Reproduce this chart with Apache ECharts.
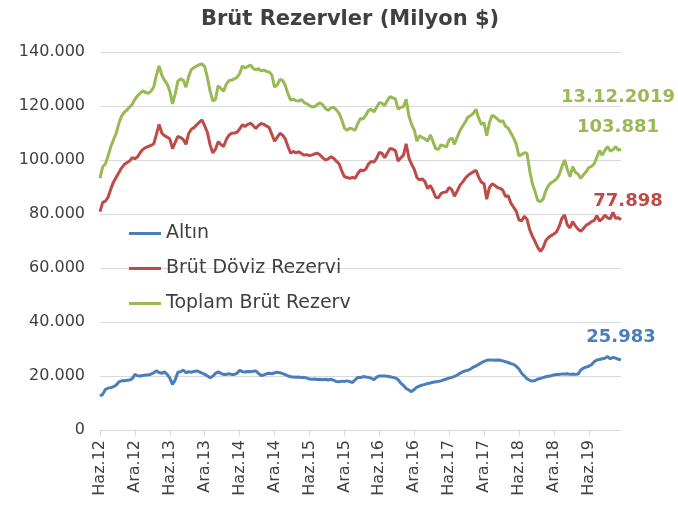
<!DOCTYPE html>
<html>
<head>
<meta charset="utf-8">
<script src="https://cdn.jsdelivr.net/npm/echarts@6/dist/echarts.min.js"></script>
<style>
  html, body { margin: 0; padding: 0; background: #fff; }
  #chart { width: 678px; height: 507px; }
</style>
</head>
<body>
<div id="chart"></div>
<script>
// eksen etiketleri (her 13 noktada bir, ~6 ay)
var tickLabels = ['Haz.12', 'Ara.12', 'Haz.13', 'Ara.13', 'Haz.14', 'Ara.14', 'Haz.15', 'Ara.15',
    'Haz.16', 'Ara.16', 'Haz.17', 'Ara.17', 'Haz.18', 'Ara.18', 'Haz.19'];
var lastDate = '13.12.2019';

// Altın (etiket 20.000 = 20 milyar $)
var altin = [
    12.6, 13.2, 15.0, 15.5, 15.7, 16.0, 16.6, 17.8, 18.2, 18.2, 18.4, 18.5, 19.0,
    20.6, 20.1, 20.0, 20.2, 20.4, 20.4, 20.7, 21.2, 21.9, 21.3, 21.0, 21.5, 20.6,
    19.2, 16.9, 18.5, 21.4, 21.6, 22.2, 21.2, 21.6, 21.4, 21.7, 21.9, 21.5, 21.1,
    20.6, 20.0, 19.4, 19.9, 21.0, 21.5, 21.0, 20.6, 20.6, 20.8, 20.6, 20.6, 21.0,
    22.1, 21.6, 21.5, 21.7, 21.6, 21.8, 21.9, 21.0, 20.2, 20.4, 20.8, 21.0, 20.8,
    21.2, 21.4, 21.2, 20.9, 20.5, 20.0, 19.7, 19.6, 19.5, 19.6, 19.4, 19.5, 19.2,
    18.9, 18.8, 18.9, 18.7, 18.8, 18.6, 18.8, 18.5, 18.8, 18.4, 18.0, 17.9, 18.1,
    18.0, 18.2, 17.9, 17.6, 18.6, 19.5, 19.4, 19.8, 19.6, 19.5, 19.2, 18.6, 19.6,
    20.0, 20.0, 20.0, 19.9, 19.7, 19.5, 19.3, 18.6, 17.4, 16.5, 15.4, 14.8, 14.2,
    15.0, 15.9, 16.3, 16.6, 16.9, 17.2, 17.4, 17.7, 17.9, 18.0, 18.2, 18.6, 18.9,
    19.2, 19.5, 19.9, 20.3, 21.0, 21.5, 21.9, 22.1, 22.6, 23.3, 23.7, 24.3, 24.9,
    25.4, 25.8, 25.9, 25.9, 25.8, 25.9, 25.8, 25.6, 25.3, 25.0, 24.6, 24.3, 23.6,
    22.6, 21.0, 20.0, 19.0, 18.4, 18.1, 18.3, 18.9, 19.1, 19.4, 19.7, 19.9, 20.1,
    20.4, 20.6, 20.6, 20.7, 20.7, 20.8, 20.6, 20.7, 20.6, 20.7, 22.2, 22.9, 23.3,
    23.6, 24.2, 25.3, 25.9, 26.1, 26.4, 26.6, 27.2, 26.4, 26.9, 26.6, 26.2, 25.983
];

// Brüt Döviz Rezervi
var doviz = [
    80.9, 84.3, 84.8, 86.2, 89.2, 91.8, 93.5, 95.3, 97.0, 98.3, 99.0, 99.6, 100.9,
    100.5, 101.2, 102.8, 104.0, 104.6, 105.0, 105.4, 106.0, 109.5, 113.2, 110.0, 109.0, 108.5,
    107.8, 104.2, 106.5, 108.8, 108.3, 107.6, 105.8, 109.8, 111.4, 112.0, 113.0, 114.0, 114.8,
    112.6, 110.2, 105.6, 102.6, 104.0, 106.8, 105.8, 105.0, 107.5, 109.2, 109.9, 110.0, 110.3,
    111.5, 113.0, 112.4, 113.2, 113.6, 112.8, 111.7, 112.8, 113.5, 113.2, 112.6, 112.0, 109.5,
    107.0, 108.4, 109.9, 109.2, 107.8, 105.0, 102.5, 103.2, 102.6, 103.1, 102.4, 101.8, 102.0,
    101.6, 101.9, 102.3, 102.5, 101.8, 100.8, 100.0, 100.4, 101.2, 100.6, 99.6, 98.6, 96.0,
    93.8, 93.5, 93.2, 93.6, 93.2, 95.0, 96.3, 96.0, 96.6, 98.6, 99.5, 99.2, 100.6,
    102.8, 102.5, 100.8, 102.6, 104.3, 104.0, 103.5, 99.6, 100.8, 101.8, 106.0, 100.8, 98.5,
    96.6, 93.5, 92.6, 93.0, 92.0, 89.4, 90.6, 88.6, 86.2, 86.0, 87.6, 88.0, 88.2,
    89.8, 89.0, 86.6, 88.5, 90.6, 91.8, 93.2, 94.3, 95.0, 95.6, 96.2, 93.6, 91.8,
    91.2, 85.5, 89.8, 91.2, 90.6, 89.8, 89.5, 88.8, 86.5, 86.8, 84.0, 82.5, 81.0,
    77.8, 77.5, 79.2, 78.0, 74.2, 71.8, 69.8, 67.6, 66.2, 67.5, 70.2, 71.3, 72.0,
    72.6, 73.4, 75.5, 78.4, 79.6, 76.0, 74.8, 77.2, 75.6, 74.4, 73.6, 74.6, 75.8,
    76.4, 77.2, 77.6, 79.4, 77.4, 78.2, 79.6, 78.6, 78.2, 80.6, 78.4, 78.6, 77.898
];

// Toplam Brüt Rezerv
var toplam = [
    93.3, 97.5, 98.5, 101.5, 104.8, 107.5, 109.8, 113.5, 116.2, 117.6, 118.5, 119.6, 120.6,
    122.5, 123.8, 124.8, 125.6, 125.0, 124.7, 125.5, 127.0, 131.5, 134.8, 131.5, 129.5, 128.2,
    125.5, 120.8, 124.5, 129.2, 130.0, 129.6, 127.0, 130.8, 133.5, 134.2, 134.8, 135.3, 135.6,
    134.5, 130.5, 125.5, 121.8, 122.5, 127.5, 126.5, 125.5, 128.0, 129.4, 129.6, 130.0, 130.6,
    132.0, 134.8, 134.0, 134.6, 135.2, 134.0, 133.4, 133.8, 133.0, 133.3, 132.8, 132.6, 131.5,
    127.0, 127.8, 129.8, 129.5, 127.6, 124.5, 122.2, 122.5, 122.0, 121.8, 122.4, 121.3, 120.8,
    120.2, 119.6, 119.8, 120.6, 121.2, 120.3, 119.0, 118.4, 119.3, 119.5, 118.6, 117.3, 115.0,
    111.8, 111.0, 111.8, 111.5, 111.0, 113.5, 115.4, 115.2, 116.6, 118.4, 118.8, 117.8, 119.5,
    121.2, 121.0, 120.2, 122.0, 123.5, 123.0, 122.6, 118.8, 119.5, 119.7, 122.5, 116.5, 113.2,
    111.2, 107.0, 109.0, 108.3, 107.8, 107.0, 109.3, 106.8, 104.2, 104.0, 105.6, 105.2, 104.8,
    107.5, 108.2, 105.8, 108.5, 110.8, 112.5, 114.0, 115.9, 116.4, 117.3, 118.8, 115.5, 113.2,
    113.8, 109.0, 113.8, 116.6, 116.0, 115.2, 114.2, 114.6, 112.5, 111.8, 110.0, 108.2, 105.8,
    101.5, 102.0, 102.7, 102.5, 96.0, 91.2, 88.3, 85.0, 84.6, 85.5, 88.6, 90.6, 91.6,
    92.2, 93.0, 94.5, 97.5, 100.0, 96.5, 93.8, 97.5, 95.5, 94.8, 93.2, 94.5, 95.6,
    97.2, 97.6, 98.6, 101.0, 103.5, 101.8, 103.6, 105.0, 103.3, 103.8, 104.9, 103.7, 103.881
];

var categories = [];
for (var i = 0; i < toplam.length; i++) {
    categories.push(i % 13 === 0 ? tickLabels[i / 13] : '');
}
var last = toplam.length - 1;

var txt = '#404040';
var font = 'DejaVu Sans';

// son değer etiketi (çizginin ucunun üstünde)
function endMark(val, text, color, dist, dx) {
    return {
        symbol: 'circle', symbolSize: 0, silent: true, animation: false,
        data: [{ coord: [last, val], value: val }],
        label: {
            show: true, position: 'top', distance: dist, offset: [dx, 0],
            formatter: text, color: color, fontFamily: font, fontWeight: 'bold',
            fontSize: 18, lineHeight: 30
        }
    };
}

var chart = echarts.init(document.getElementById('chart'));
chart.setOption({
    animation: false,
    textStyle: { fontFamily: font },
    title: {
        text: 'Brüt Rezervler (Milyon $)', left: 196, top: 4,
        textStyle: { color: txt, fontSize: 21, fontWeight: 'bold', fontFamily: font }
    },
    legend: {
        orient: 'vertical', left: 124, top: 219, itemGap: 16,
        icon: 'rect', itemWidth: 32, itemHeight: 3,
        textStyle: { color: txt, fontSize: 19, fontFamily: font },
        data: ['Altın', 'Brüt Döviz Rezervi', 'Toplam Brüt Rezerv']
    },
    grid: { left: 100, right: 57, top: 52, bottom: 77 },
    xAxis: {
        type: 'category', boundaryGap: false, data: categories,
        axisLine: { lineStyle: { color: '#d9d9d9', width: 1 } },
        axisTick: { interval: 12, length: 6, lineStyle: { color: '#d9d9d9' } },
        axisLabel: { interval: 12, rotate: 90, color: txt, fontSize: 16, margin: 10, fontFamily: font },
        splitLine: { show: false }
    },
    yAxis: {
        type: 'value', min: 0, max: 140, interval: 20,
        axisLine: { show: false }, axisTick: { show: false },
        axisLabel: {
            color: txt, fontSize: 16, margin: 15, fontFamily: font,
            formatter: function (v) { return v === 0 ? '0' : v.toFixed(3); }
        },
        splitLine: { lineStyle: { color: '#d9d9d9', width: 1 } }
    },
    series: [
        {
            name: 'Altın', type: 'line', data: altin, showSymbol: false,
            lineStyle: { color: '#4a7ebb', width: 3 }, itemStyle: { color: '#4a7ebb' },
            markPoint: endMark(altin[last], '25.983', '#4a7ebb', 8, 0)
        },
        {
            name: 'Brüt Döviz Rezervi', type: 'line', data: doviz, showSymbol: false,
            lineStyle: { color: '#be4b48', width: 3 }, itemStyle: { color: '#be4b48' },
            markPoint: endMark(doviz[last], '77.898', '#be4b48', 3, 7)
        },
        {
            name: 'Toplam Brüt Rezerv', type: 'line', data: toplam, showSymbol: false,
            lineStyle: { color: '#98b954', width: 3 }, itemStyle: { color: '#98b954' },
            markPoint: endMark(toplam[last], lastDate + '\n103.881', '#98b954', 7, -3)
        }
    ]
});
</script>
</body>
</html>
